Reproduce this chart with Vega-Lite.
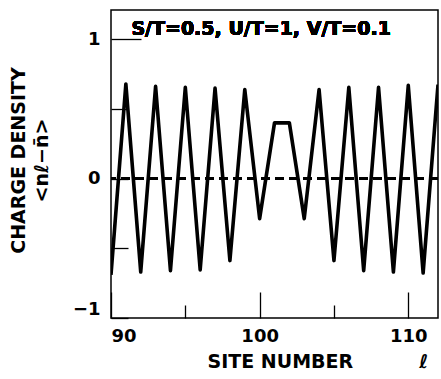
{
  "$schema": "https://vega.github.io/schema/vega-lite/v6.json",
  "width": 327,
  "height": 308,
  "autosize": "none",
  "padding": {"left": 111, "top": 10, "right": 3, "bottom": 61},
  "background": "white",
  "config": {
    "view": {"stroke": "black", "strokeWidth": 1.5},
    "font": "DejaVu Sans",
    "axis": {
      "domain": false,
      "grid": false,
      "tickColor": "black",
      "tickWidth": 1.3,
      "labelColor": "black",
      "labelFont": "DejaVu Sans",
      "labelFontWeight": "bold",
      "labelFontSize": 18,
      "titleColor": "black",
      "titleFont": "DejaVu Sans",
      "titleFontWeight": "bold",
      "titleFontSize": 19
    }
  },
  "data": {
    "values": [
      {"site": 90, "density": -0.69},
      {"site": 91, "density": 0.679},
      {"site": 92, "density": -0.67},
      {"site": 93, "density": 0.662},
      {"site": 94, "density": -0.66},
      {"site": 95, "density": 0.655},
      {"site": 96, "density": -0.655},
      {"site": 97, "density": 0.65},
      {"site": 98, "density": -0.588},
      {"site": 99, "density": 0.639},
      {"site": 100, "density": -0.287},
      {"site": 101, "density": 0.4},
      {"site": 102, "density": 0.4},
      {"site": 103, "density": -0.287},
      {"site": 104, "density": 0.639},
      {"site": 105, "density": -0.588},
      {"site": 106, "density": 0.655},
      {"site": 107, "density": -0.66},
      {"site": 108, "density": 0.655},
      {"site": 109, "density": -0.67},
      {"site": 110, "density": 0.669},
      {"site": 111, "density": -0.677},
      {"site": 112, "density": 0.675}
    ]
  },
  "layer": [
    {
      "mark": {"type": "rule", "color": "black", "strokeWidth": 1.6, "strokeDash": [9, 5]},
      "encoding": {"y": {"datum": 0, "type": "quantitative"}}
    },
    {
      "mark": {"type": "line", "color": "black", "strokeWidth": 3.6, "strokeJoin": "round", "clip": true},
      "encoding": {
        "x": {
          "field": "site",
          "type": "quantitative",
          "scale": {"domain": [90, 112], "nice": false, "zero": false},
          "axis": {
            "values": [90, 95, 100, 105, 110],
            "tickSize": {"condition": {"test": "datum.value % 10 === 0", "value": -26}, "value": -13},
            "labelExpr": "datum.value % 10 === 0 ? datum.label : ''",
            "labelPadding": 35,
            "labelBaseline": "top",
            "title": "SITE NUMBER\u00a0\u00a0\u00a0\u00a0\u00a0\u00a0\u00a0\u00a0\u00a0\u00a0ℓ",
            "titleAlign": "left",
            "titleAnchor": "start",
            "titleX": 96,
            "titleY": 49,
            "titleBaseline": "alphabetic"
          }
        },
        "y": {
          "field": "density",
          "type": "quantitative",
          "scale": {"domain": [-1, 1.21], "nice": false, "zero": false},
          "axis": {
            "values": [-1, -0.5, 0, 0.5, 1],
            "tickSize": {"condition": {"test": "datum.value === 1", "value": -30}, "value": -17},
            "labelExpr": "datum.value === 1 ? '1' : (datum.value === 0 ? '0' : (datum.value === -1 ? '−1' : ''))",
            "labelPadding": {"condition": {"test": "datum.value === 1", "value": 41}, "value": 28},
            "labelFlush": true,
            "title": ["CHARGE DENSITY", "<nℓ−n̄>\u00a0\u00a0\u00a0\u00a0\u00a0\u00a0\u00a0\u00a0\u00a0\u00a0\u00a0\u00a0\u00a0"],
            "titleAngle": -90,
            "titleAlign": "center",
            "titleBaseline": "top",
            "titleLineHeight": 23,
            "titleX": -102,
            "titleY": 150
          }
        }
      }
    },
    {
      "mark": {"type": "text", "color": "black", "font": "DejaVu Sans", "fontWeight": "bold", "fontSize": 19, "baseline": "middle", "align": "center"},
      "encoding": {
        "x": {"datum": 100.1, "type": "quantitative"},
        "y": {"datum": 1.073, "type": "quantitative"},
        "text": {"value": "S/T=0.5, U/T=1, V/T=0.1"}
      }
    }
  ]
}
